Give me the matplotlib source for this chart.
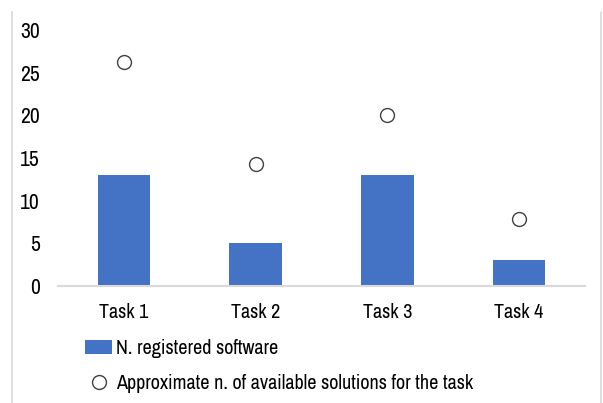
import matplotlib
matplotlib.use('Agg')
import matplotlib.pyplot as plt
from matplotlib.lines import Line2D
from matplotlib.patches import Patch

tasks = ['Task 1', 'Task 2', 'Task 3', 'Task 4']
registered = [13, 5, 13, 3]
available = [26.2, 14.3, 20.0, 7.9]

plt.rcParams['font.family'] = ['Archivo Narrow', 'Roboto Condensed', 'DejaVu Sans']

fig = plt.figure(figsize=(6.03, 4.03), dpi=100)
ax = fig.add_axes([58 / 603, 1 - 286 / 403, 527 / 603, 256 / 403])

x = range(len(tasks))
ax.bar(x, registered, width=0.4, color='#4472C4', zorder=2)
ax.plot(x, available, linestyle='None', marker='o', markersize=10,
        markerfacecolor='white', markeredgecolor='#404040', markeredgewidth=1.0, zorder=3)

ax.set_xlim(-0.5, 3.5)
ax.set_ylim(0, 30)
ax.set_yticks([0, 5, 10, 15, 20, 25, 30])
ax.set_xticks(list(x))
ax.set_xticklabels(tasks)
ax.tick_params(axis='both', length=0, labelsize=14.5, colors='#000000')
ax.tick_params(axis='x', pad=12)
ax.tick_params(axis='y', pad=13, labelsize=15.5)
for s in ['top', 'right', 'left']:
    ax.spines[s].set_visible(False)
ax.spines['bottom'].set_color('#d9d9d9')
ax.spines['bottom'].set_linewidth(1.5)

handles = [Patch(facecolor='#4472C4'),
           Line2D([], [], linestyle='None', marker='o', markersize=10,
                  markerfacecolor='white', markeredgecolor='#404040')]
labels = ['N. registered software', 'Approximate n. of available solutions for the task']
fig.legend(handles, labels, loc='upper left', bbox_to_anchor=(85 / 603, 1 - 339 / 403),
           frameon=False, fontsize=14.5, handlelength=1.35, handletextpad=0.2,
           labelspacing=0.78, borderaxespad=0, borderpad=0)

fig.add_artist(Line2D([12 / 603, 12 / 603], [0, 1 - 12 / 403], color='#d9d9d9', lw=1.2))
fig.add_artist(Line2D([601 / 603, 601 / 603], [0, 1 - 12 / 403], color='#d9d9d9', lw=1.2))

fig.savefig('out.png', dpi=100)
plt.close(fig)
